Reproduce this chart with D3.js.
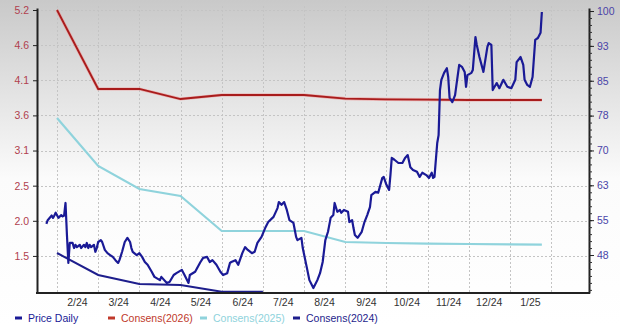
<!DOCTYPE html>
<html>
<head>
<meta charset="utf-8">
<script src="https://cdn.jsdelivr.net/npm/d3@7"></script>
<style>
  body { margin: 0; background: #fff; }
  svg { display: block; font-family: "DejaVu Sans", Verdana, sans-serif; }
</style>
</head>
<body>
<div id="chart"></div>
<script>
// month boundaries used for the x scale and grid, and the month labels
var monthStarts = ["2024-01-01","2024-02-01","2024-03-01","2024-04-01","2024-05-01","2024-06-01","2024-07-01",
  "2024-08-01","2024-09-01","2024-10-01","2024-11-01","2024-12-01","2025-01-01","2025-02-01","2025-03-01"];
var monthLabels = ["2/24","3/24","4/24","5/24","6/24","7/24","8/24","9/24","10/24","11/24","12/24","1/25"];
var labelDates = ["2024-02-15","2024-03-16","2024-04-16","2024-05-16","2024-06-16","2024-07-16",
  "2024-08-16","2024-09-16","2024-10-16","2024-11-16","2024-12-16","2025-01-16"];

var leftTickValues = [5.2, 4.673, 4.146, 3.619, 3.092, 2.565, 2.038, 1.511];
var leftTickLabels = ["5.2","4.6","4.1","3.6","3.1","2.5","2.0","1.5"];
var rightTickValues = [100, 92.5, 85, 77.5, 70, 62.5, 55, 47.5];
var rightTickLabels = ["100","93","85","78","70","63","55","48"];

// consensus EPS estimates (left axis)
var consDates = ["2024-02-01","2024-03-01","2024-04-01","2024-05-01","2024-06-01","2024-07-01","2024-08-01",
  "2024-09-01","2024-10-01","2024-11-01","2024-12-01","2025-01-01","2025-01-25"];
var cons2026 = [5.2, 4.015, 4.015, 3.865, 3.925, 3.925, 3.925, 3.87, 3.86, 3.855, 3.85, 3.85, 3.85];
var cons2025 = [3.58, 2.86, 2.515, 2.41, 1.885, 1.885, 1.885, 1.72, 1.705, 1.695, 1.69, 1.685, 1.68];
var cons2024Dates = ["2024-02-01","2024-03-01","2024-04-01","2024-05-01","2024-06-01","2024-07-01"];
var cons2024 = [1.555, 1.225, 1.09, 1.075, 0.975, 0.975];

// daily price (right axis)
var priceDates = ["2024-01-24","2024-01-25","2024-01-28","2024-01-29","2024-01-30","2024-01-31","2024-02-02","2024-02-04",
  "2024-02-05","2024-02-06","2024-02-07","2024-02-08","2024-02-09","2024-02-10","2024-02-12","2024-02-13","2024-02-14",
  "2024-02-15","2024-02-17","2024-02-18","2024-02-20","2024-02-21","2024-02-22","2024-02-23","2024-02-24","2024-02-25",
  "2024-02-27","2024-02-28","2024-02-29","2024-03-01","2024-03-03","2024-03-04","2024-03-06","2024-03-08","2024-03-10",
  "2024-03-12","2024-03-14","2024-03-16","2024-03-17","2024-03-19","2024-03-21","2024-03-23","2024-03-25","2024-03-26",
  "2024-03-27","2024-03-30","2024-04-01","2024-04-03","2024-04-05","2024-04-07","2024-04-10","2024-04-12","2024-04-16",
  "2024-04-17","2024-04-21","2024-04-23","2024-04-26","2024-04-28","2024-05-02","2024-05-04","2024-05-07","2024-05-08",
  "2024-05-12","2024-05-16","2024-05-18","2024-05-21","2024-05-23","2024-05-25","2024-05-28","2024-05-31","2024-06-02",
  "2024-06-05","2024-06-07","2024-06-08","2024-06-11","2024-06-13","2024-06-16","2024-06-18","2024-06-20","2024-06-23",
  "2024-06-25","2024-06-27","2024-06-30","2024-07-03","2024-07-05","2024-07-09","2024-07-12","2024-07-13","2024-07-15",
  "2024-07-17","2024-07-19","2024-07-21","2024-07-24","2024-07-26","2024-07-27","2024-07-30","2024-07-31","2024-08-03",
  "2024-08-05","2024-08-08","2024-08-11","2024-08-13","2024-08-15","2024-08-17","2024-08-19","2024-08-21","2024-08-23",
  "2024-08-24","2024-08-26","2024-08-28","2024-08-29","2024-08-31","2024-09-03","2024-09-04","2024-09-06","2024-09-07",
  "2024-09-08","2024-09-10","2024-09-13","2024-09-15","2024-09-17","2024-09-19","2024-09-20","2024-09-23","2024-09-25",
  "2024-09-28","2024-09-29","2024-10-01","2024-10-03","2024-10-04","2024-10-05","2024-10-07","2024-10-10","2024-10-13",
  "2024-10-15","2024-10-17","2024-10-19","2024-10-21","2024-10-24","2024-10-26","2024-10-28","2024-10-31","2024-11-02",
  "2024-11-04","2024-11-05","2024-11-06","2024-11-08","2024-11-09","2024-11-10","2024-11-11","2024-11-13","2024-11-15",
  "2024-11-16","2024-11-17","2024-11-19","2024-11-21","2024-11-22","2024-11-24","2024-11-26","2024-11-28","2024-11-29",
  "2024-11-30","2024-12-03","2024-12-04","2024-12-06","2024-12-07","2024-12-09","2024-12-12","2024-12-15","2024-12-16",
  "2024-12-18","2024-12-19","2024-12-22","2024-12-24","2024-12-27","2024-12-30","2025-01-02","2025-01-05","2025-01-06",
  "2025-01-09","2025-01-11","2025-01-12","2025-01-14","2025-01-16","2025-01-18","2025-01-20","2025-01-22","2025-01-24",
  "2025-01-25"];
var priceValues = [54.2,55.0,56.0,55.5,56.0,56.6,55.5,56.1,
  55.8,56.0,58.7,51.8,45.8,50.1,50.1,49.0,49.7,
  49.2,49.7,49.0,49.7,49.2,50.1,49.0,49.7,49.2,
  49.7,48.2,49.0,50.3,50.7,50.3,48.6,47.9,47.5,
  47.1,46.4,45.8,46.4,48.2,50.3,51.2,50.3,49.0,
  48.2,47.5,47.9,47.1,46.0,45.4,43.9,42.8,42.1,
  42.8,41.5,41.7,43.2,43.6,44.3,43.2,41.5,43.2,
  43.9,46.0,46.9,47.1,46.0,46.4,45.4,43.9,43.2,
  43.6,45.8,46.0,46.4,45.4,47.9,49.2,48.6,47.9,
  48.2,50.1,51.4,53.5,54.6,55.7,57.6,58.9,58.3,
  58.9,57.2,55.0,54.4,51.4,50.7,51.2,49.0,44.9,
  42.1,40.4,42.1,43.6,46.0,50.7,52.5,55.5,56.1,
  58.7,56.8,57.2,56.6,57.2,56.8,54.6,55.0,53.3,
  51.8,51.2,52.5,54.6,56.1,57.8,60.4,61.1,60.9,
  64.1,64.3,62.6,61.5,64.7,68.4,68.0,67.3,67.3,
  68.4,69.0,66.4,65.8,65.4,64.3,65.2,64.7,64.1,
  65.2,64.1,64.3,71.6,73.3,83.0,85.2,86.7,87.7,
  85.8,81.3,80.4,81.9,84.1,88.4,88.0,86.9,83.7,
  86.2,86.7,87.3,94.4,92.7,90.1,86.9,92.3,93.1,
  92.7,83.0,84.5,83.4,85.2,83.7,83.4,85.2,89.0,
  90.1,88.4,85.2,84.1,83.7,85.8,93.8,94.2,95.3,
  99.8];

var w = 620;
var h = 325;
var plotL = 37, plotR = 589, plotT = 8, plotB = 293;
var parse = d3.timeParse("%Y-%m-%d");

const svg = d3.select("#chart")
              .append("svg")
              .attr("width", w)
              .attr("height", h);

// gray-to-white background
var grad = svg.append("defs").append("linearGradient")
  .attr("id", "bg").attr("x1", 0).attr("y1", 0).attr("x2", 0).attr("y2", 1);
grad.append("stop").attr("offset", "0%").attr("stop-color", "#c9c9c9");
grad.append("stop").attr("offset", "55%").attr("stop-color", "#fbfbfb");
grad.append("stop").attr("offset", "100%").attr("stop-color", "#ffffff");
svg.append("rect").attr("width", w).attr("height", h).attr("fill", "url(#bg)");

var xScale = d3.scaleTime()
  .domain(monthStarts.map(parse))
  .range(monthStarts.map(function(d, i) { return 57 + (i - 1) * 41.18; }));
var yLeft = d3.scaleLinear().domain([0.955, 5.23]).range([plotB, plotT]);
var yRight = d3.scaleLinear().domain([39.33, 100.65]).range([plotB, plotT]);

// grid
var grid = svg.append("g").attr("stroke", "#c4c4c4").attr("stroke-dasharray", "2,2").attr("stroke-width", 1);
grid.selectAll(".hg").data(leftTickValues).enter().append("line")
  .attr("x1", plotL).attr("x2", plotR)
  .attr("y1", function(d) { return Math.round(yLeft(d)) + 0.5; })
  .attr("y2", function(d) { return Math.round(yLeft(d)) + 0.5; });
grid.selectAll(".vg").data(monthStarts.slice(1, 14)).enter().append("line")
  .attr("y1", plotT - 2).attr("y2", plotB)
  .attr("x1", function(d) { return Math.round(xScale(parse(d))) + 0.5; })
  .attr("x2", function(d) { return Math.round(xScale(parse(d))) + 0.5; });

// series
function series(dates, values) {
  return dates.map(function(d, i) { return { date: parse(d), v: values[i] }; });
}
var lineL = d3.line().x(function(d) { return xScale(d.date); }).y(function(d) { return yLeft(d.v); });
var lineR = d3.line().x(function(d) { return xScale(d.date); }).y(function(d) { return yRight(d.v); });

svg.append("path").datum(series(consDates, cons2025))
  .attr("d", lineL).attr("fill", "none").attr("stroke", "#8fd3dc").attr("stroke-width", 2.2);
svg.append("path").datum(series(consDates, cons2026))
  .attr("d", lineL).attr("fill", "none").attr("stroke", "#ef8a8a").attr("stroke-width", 3.2).attr("opacity", 0.6);
svg.append("path").datum(series(consDates, cons2026))
  .attr("d", lineL).attr("fill", "none").attr("stroke", "#a81c1c").attr("stroke-width", 1.8);
svg.append("path").datum(series(cons2024Dates, cons2024))
  .attr("d", lineL).attr("fill", "none").attr("stroke", "#1e1e8c").attr("stroke-width", 2);
svg.append("path").datum(series(priceDates, priceValues))
  .attr("d", lineR).attr("fill", "none").attr("stroke", "#1a1a96").attr("stroke-width", 2.2)
  .attr("stroke-linejoin", "round");

// axes
var leftAxis = d3.axisLeft(yLeft).tickValues(leftTickValues)
  .tickFormat(function(d, i) { return leftTickLabels[i]; }).tickSize(4).tickSizeOuter(0);
var gl = svg.append("g").attr("transform", "translate(" + plotL + ",0)").call(leftAxis);
gl.select(".domain").attr("stroke", "#222").attr("stroke-width", 2);
gl.selectAll(".tick line").attr("stroke", "#222");
gl.selectAll("text").attr("fill", "#b0404e").attr("font-size", 10.5).attr("x", -8);

var minor = d3.axisRight(yRight).tickValues(d3.range(40, 100.1, 1.5)).tickFormat("").tickSize(3).tickSizeOuter(0);
var gm = svg.append("g").attr("transform", "translate(" + plotR + ",0)").call(minor);
gm.select(".domain").attr("stroke", "#222").attr("stroke-width", 2);
gm.selectAll(".tick line").attr("stroke", "#333");

var rightAxis = d3.axisRight(yRight).tickValues(rightTickValues)
  .tickFormat(function(d, i) { return rightTickLabels[i]; }).tickSize(5).tickSizeOuter(0);
var gr = svg.append("g").attr("transform", "translate(" + plotR + ",0)").call(rightAxis);
gr.select(".domain").remove();
gr.selectAll(".tick line").attr("stroke", "#222");
gr.selectAll("text").attr("fill", "#4a44a8").attr("font-size", 10.5).attr("x", 8);

var bottomAxis = d3.axisBottom(xScale).tickValues(labelDates.map(parse))
  .tickFormat(function(d, i) { return monthLabels[i]; }).tickSize(0).tickSizeOuter(0);
var gb = svg.append("g").attr("transform", "translate(0," + plotB + ")").call(bottomAxis);
gb.select(".domain").remove();
gb.selectAll("text").attr("fill", "#333").attr("font-size", 10.5).attr("y", 6);
svg.append("line").attr("x1", plotL - 1).attr("x2", plotR + 1).attr("y1", plotB).attr("y2", plotB)
  .attr("stroke", "#222").attr("stroke-width", 2);

// legend
var legendNames = ["Price Daily", "Consens(2026)", "Consens(2025)", "Consens(2024)"];
var legendColors = ["#1a1a96", "#c0392b", "#8fd3dc", "#1e1e8c"];
var legendX = [15, 108, 200, 293];
var lg = svg.append("g").selectAll("g").data(legendNames).enter().append("g")
  .attr("transform", function(d, i) { return "translate(" + legendX[i] + ",318)"; });
lg.append("line").attr("x1", 0).attr("x2", 7).attr("y1", 0).attr("y2", 0)
  .attr("stroke", function(d, i) { return legendColors[i]; }).attr("stroke-width", 3);
lg.append("text").attr("x", 13).attr("y", 4).attr("font-size", 10.5)
  .attr("font-family", "'Liberation Sans', Arial, sans-serif")
  .attr("fill", function(d, i) { return legendColors[i]; })
  .text(function(d) { return d; });
</script>
</body>
</html>
